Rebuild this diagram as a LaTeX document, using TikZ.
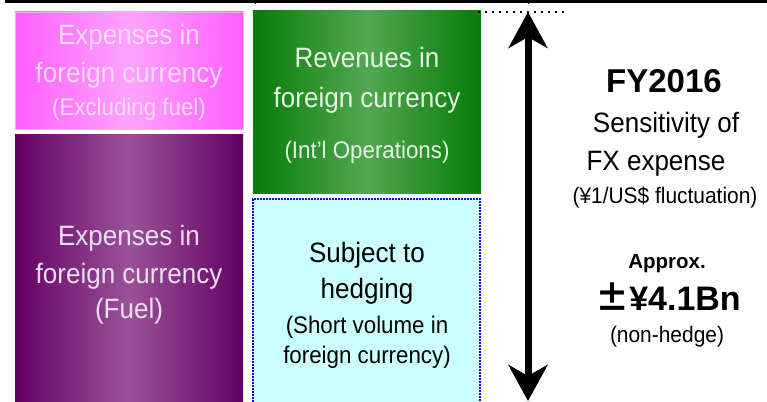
\documentclass[tikz,border=0pt]{standalone}
\usepackage{fontspec}
\setmainfont[FakeStretch=0.93]{Liberation Sans}
\newfontfamily\wide{Liberation Sans}
\newfontfamily\cjk{Noto Sans CJK JP}
\usetikzlibrary{arrows.meta}
\definecolor{pinkE}{HTML}{FF5EFF}
\definecolor{pinkM}{HTML}{FFA3FF}
\definecolor{pinkB}{HTML}{FFA8FF}
\definecolor{pinkT}{HTML}{FFD9FF}
\definecolor{purpE}{HTML}{640064}
\definecolor{purpM}{HTML}{9A5299}
\definecolor{purpT}{HTML}{ECE0EC}
\definecolor{grnE}{HTML}{067C06}
\definecolor{grnM}{HTML}{52A852}
\definecolor{grnT}{HTML}{E6F3E6}
\definecolor{hedgeF}{HTML}{CCFFFF}
\definecolor{hedgeB}{HTML}{0A0AF5}
\begin{document}
\begin{tikzpicture}[x=1pt,y=-1pt,
  box/.style={rectangle,inner sep=0pt,outer sep=0pt},
  ln/.style={anchor=base,inner sep=0pt,outer sep=0pt},
  big/.style={ln,font=\fontsize{28}{32}\selectfont},
  mid/.style={ln,font=\fontsize{24}{28}\selectfont},
  sml/.style={ln,font=\fontsize{22.5}{26}\selectfont},
]
\clip (0,0) rectangle (767,401);
\fill[white] (0,0) rectangle (767,401);
% top frame remnant
\draw[line width=3pt] (5,1.5) -- (767,1.5);
\draw[line width=1.5pt] (5.75,0) -- (5.75,3);
\draw[line width=1pt] (255,2) -- (255,4.5);
\draw[line width=1pt] (528,2) -- (528,4.5);
% boxes
\node[box,minimum width=228pt,minimum height=117pt,left color=pinkE,right color=pinkE,middle color=pinkM,draw=pinkB,line width=0.8pt] (pink) at (129,70.5) {};
\node[box,minimum width=228pt,minimum height=268pt,left color=purpE,right color=purpE,middle color=purpM] (purp) at (129,268) {};
\node[box,minimum width=228pt,minimum height=182pt,left color=grnE,right color=grnE,middle color=grnM] (grn) at (367,102) {};
\node[box,minimum width=227pt,minimum height=206pt,fill=hedgeF,draw=hedgeB,line width=2pt,dash pattern=on 1.6pt off 1.4pt] (hedge) at (366.5,302) {};
% pink text
\node[big,text=pinkT] (p1) at (129,45) {Expenses in};
\node[big,text=pinkT] (p2) at (129,83) {foreign currency};
\node[mid,text=pinkT] (p3) at (129,115) {(Excluding fuel)};
% purple text
\node[big,text=purpT] (u1) at (129,245) {Expenses in};
\node[big,text=purpT] (u2) at (129,283) {foreign currency};
\node[big,text=purpT] (u3) at (129,318) {(Fuel)};
% green text
\node[big,text=grnT] (g1) at (367,68) {Revenues in};
\node[big,text=grnT] (g2) at (367,107) {foreign currency};
\node[mid,text=grnT] (g3) at (367,158) {(Int’l Operations)};
% hedge text
\node[big] (h1) at (367,262) {Subject to};
\node[big] (h2) at (367,298) {hedging};
\node[mid] (h3) at (367,333) {(Short volume in};
\node[mid] (h4) at (367,363) {foreign currency)};
% dotted line and arrow
\coordinate (dotL) at (478,12);
\coordinate (dotR) at (568,12);
\draw[line width=1.6pt,dash pattern=on 1.6pt off 5.4pt] (dotL) -- (dotR);
\coordinate (arrT) at (528,12);
\coordinate (arrB) at (528,401);
\draw[line width=7pt,arrows={Stealth[length=36pt,width=39pt,inset=11pt]-Stealth[length=36pt,width=39pt,inset=11pt]}] (arrT) -- (arrB);
% right text
\node[ln,font=\wide\fontsize{33}{38}\selectfont\bfseries] (r1) at (664,93) {FY2016};
\node[big] (r2) at (666,132) {Sensitivity of};
\node[big] (r3) at (656,170) {FX expense};
\node[sml] (r4) at (665,203) {(¥1/US\$ fluctuation)};
\node[ln,font=\wide\fontsize{20.5}{24}\selectfont\bfseries] (r5) at (667,268) {Approx.};
\node[ln,font=\wide\fontsize{34}{40}\selectfont\bfseries] (r6) at (668,310) {{\cjk\bfseries ±}¥4.1Bn};
\node[sml] (r7) at (667,342) {(non-hedge)};
\end{tikzpicture}
\end{document}
